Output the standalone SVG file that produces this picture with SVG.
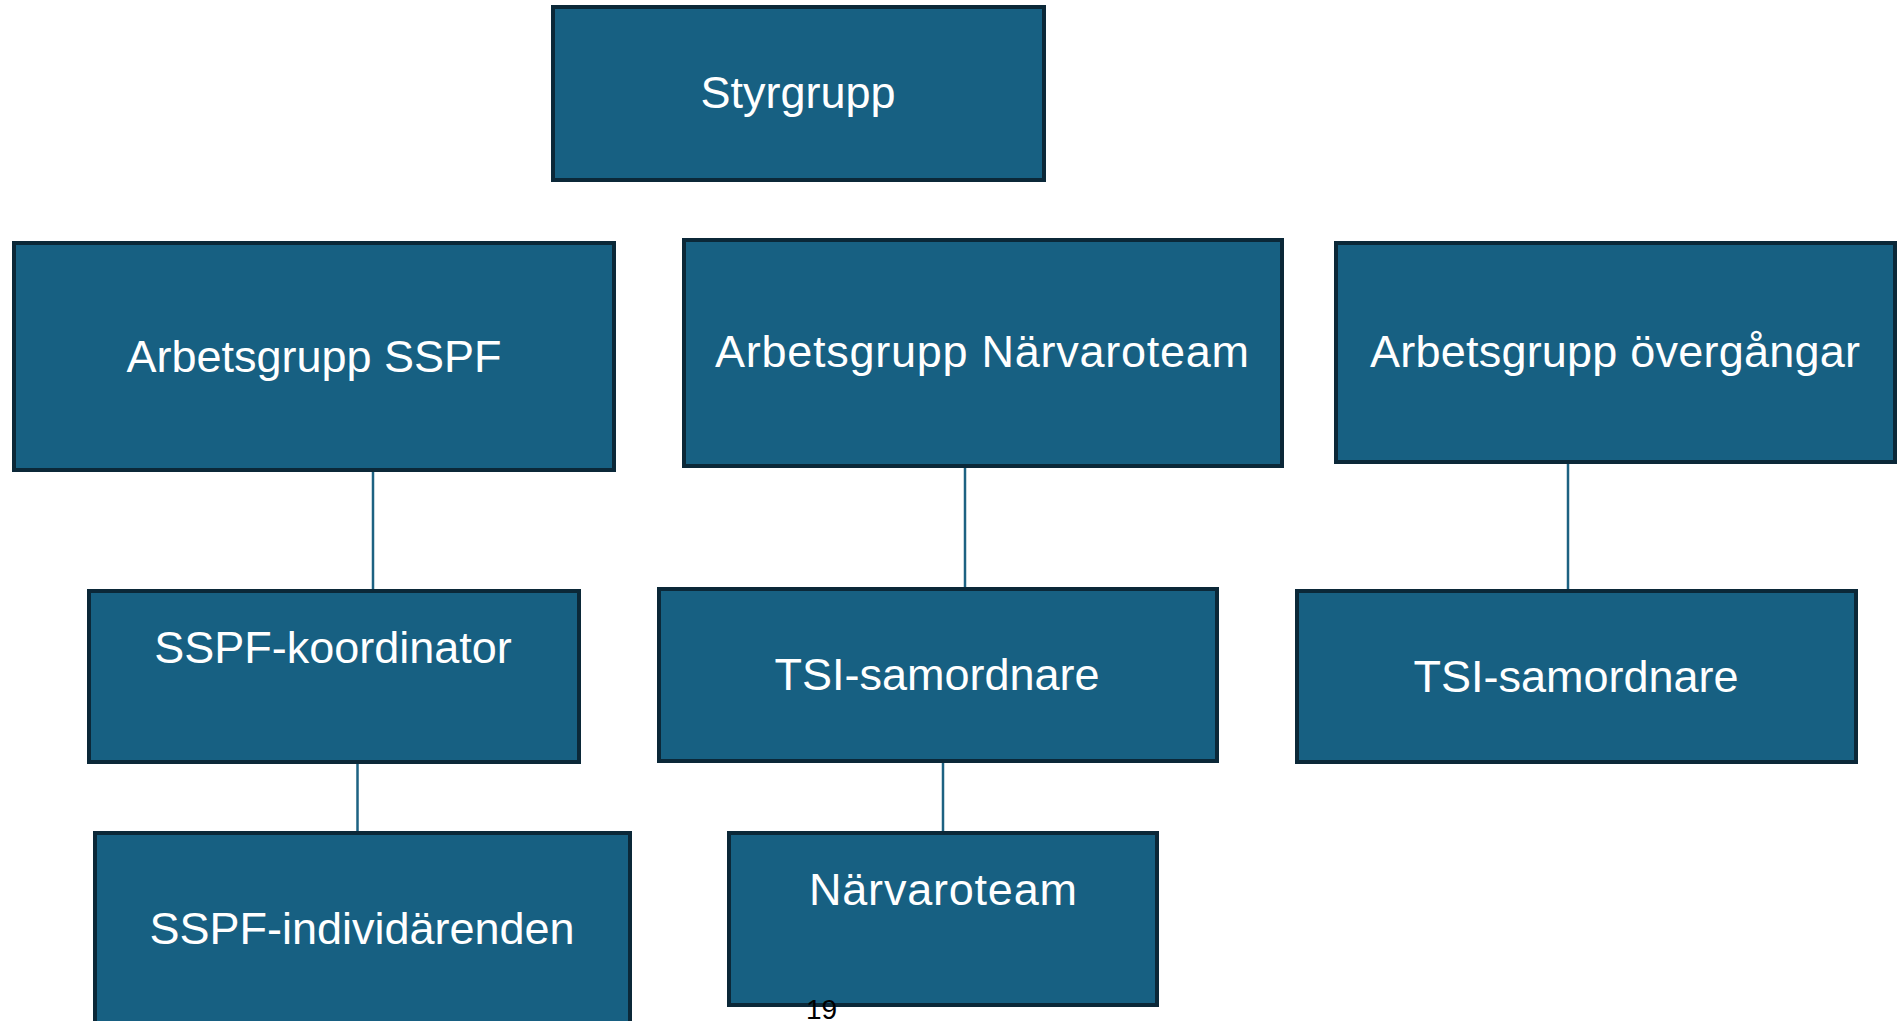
<svg xmlns="http://www.w3.org/2000/svg" width="1900" height="1021" viewBox="0 0 1900 1021">
<style>
.box{fill:#176082;stroke:#0b2838;stroke-width:4}
.lbl{fill:#ffffff;font-family:"Liberation Sans",Arial,sans-serif;font-size:45px;text-anchor:middle}
.con{stroke:#1d6282;stroke-width:2.5;fill:none}
.pg{fill:#000000;font-family:"Liberation Sans",Arial,sans-serif;font-size:28px}
</style>
<rect width="1900" height="1021" fill="#ffffff"/>
<g id="connectors">
<line class="con" x1="373" y1="471" x2="373" y2="590"/>
<line class="con" x1="965" y1="466" x2="965" y2="589"/>
<line class="con" x1="1568" y1="463" x2="1568" y2="590"/>
<line class="con" x1="357.5" y1="763" x2="357.5" y2="832"/>
<line class="con" x1="943" y1="762" x2="943" y2="832"/>
</g>
<g id="styrgrupp">
<rect class="box" x="553" y="7" width="491" height="173"/>
<text class="lbl" x="798" y="108">Styrgrupp</text>
</g>
<g id="ag-sspf">
<rect class="box" x="14" y="243" width="600" height="227"/>
<text class="lbl" x="314" y="372">Arbetsgrupp SSPF</text>
</g>
<g id="ag-narvaroteam">
<rect class="box" x="684" y="240" width="598" height="226"/>
<text class="lbl" x="982" y="367" textLength="534" lengthAdjust="spacing">Arbetsgrupp Närvaroteam</text>
</g>
<g id="ag-overgangar">
<rect class="box" x="1336" y="243" width="559" height="219"/>
<text class="lbl" x="1615" y="367" textLength="490" lengthAdjust="spacing">Arbetsgrupp övergångar</text>
</g>
<g id="sspf-koordinator">
<rect class="box" x="89" y="591" width="490" height="171"/>
<text class="lbl" x="333" y="663">SSPF-koordinator</text>
</g>
<g id="tsi-mid">
<rect class="box" x="659" y="589" width="558" height="172"/>
<text class="lbl" x="937" y="690">TSI-samordnare</text>
</g>
<g id="tsi-right">
<rect class="box" x="1297" y="591" width="559" height="171"/>
<text class="lbl" x="1576" y="692">TSI-samordnare</text>
</g>
<g id="sspf-individarenden">
<rect class="box" x="95" y="833" width="535" height="200"/>
<text class="lbl" x="362" y="944">SSPF-individärenden</text>
</g>
<g id="narvaroteam">
<rect class="box" x="729" y="833" width="428" height="172"/>
<text class="lbl" x="943" y="905" textLength="268" lengthAdjust="spacing">Närvaroteam</text>
</g>
<text class="pg" x="806" y="1019">19</text>
</svg>
